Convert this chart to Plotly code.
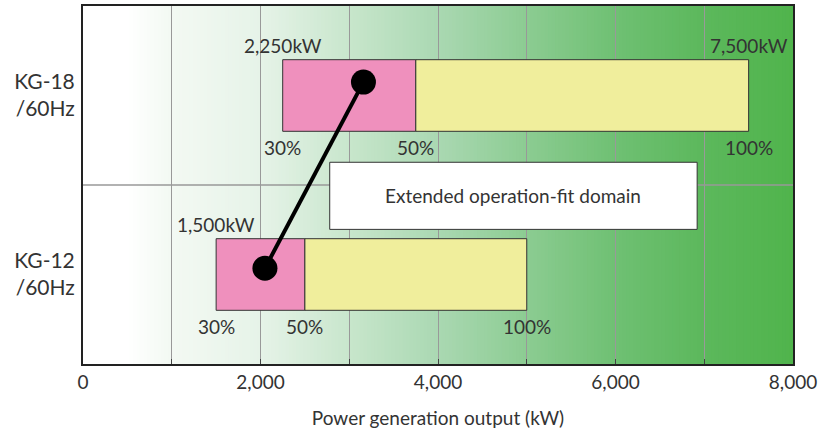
import plotly.graph_objects as go

# ---- data ----
models = ["KG-12<br>/60Hz", "KG-18<br>/60Hz"]
model_pos = [0.5, 1.5]
kw_30 = [1500, 2250]
kw_50 = [2500, 3750]
kw_100 = [5000, 7500]
min_labels = ["1,500kW", "2,250kW"]
max_labels = ["", "7,500kW"]
dot_x = [2050, 3160]
dot_y = [0.535, 1.575]
x_ticks = [0, 2000, 4000, 6000, 8000]
x_ticktext = ["0", "2,000", "4,000", "6,000", "8,000"]
box_x = [2780, 6920]
box_y = [0.752, 1.127]
box_text = "Extended operation-fit domain"

# background gradient stops (decoration)
grad_stops = [(0, (255, 255, 255)), (500, (255, 255, 255)), (1000, (243, 249, 243)),
              (2000, (230, 243, 232)), (3000, (200, 230, 204)), (4000, (170, 216, 178)),
              (5000, (140, 204, 146)), (6000, (111, 192, 115)), (7000, (92, 184, 92)),
              (8000, (80, 180, 76))]

FONT = "Lato"
TXT = "#333333"

def grad_color(v):
    for (a, ca), (b, cb) in zip(grad_stops[:-1], grad_stops[1:]):
        if a <= v <= b:
            t = (v - a) / (b - a) if b > a else 0
            c = [round(ca[i] + (cb[i] - ca[i]) * t) for i in range(3)]
            return f"rgb({c[0]},{c[1]},{c[2]})"
    return "rgb(80,180,76)"

shapes = []
step = 40
for s in range(0, 8000, step):
    shapes.append(dict(type="rect", xref="x", yref="y", x0=s, x1=min(s + step * 2, 8000), y0=0, y1=2,
                       fillcolor=grad_color(s + step / 2), line=dict(width=0), layer="below"))
# separator between the two models
shapes.append(dict(type="line", xref="x", yref="y", x0=0, x1=8000, y0=1, y1=1,
                   line=dict(color="#999999", width=1.5), layer="between"))
# white annotation box
shapes.append(dict(type="rect", xref="x", yref="y", x0=box_x[0], x1=box_x[1], y0=box_y[0], y1=box_y[1],
                   fillcolor="white", line=dict(color="#333333", width=1), layer="above"))

fig = go.Figure()
fig.add_trace(go.Bar(
    orientation="h", y=model_pos, base=kw_30,
    x=[b - a for a, b in zip(kw_30, kw_50)], width=0.4,
    marker=dict(color="#ef90bd", line=dict(color="#333333", width=1)),
    hoverinfo="skip", showlegend=False))
fig.add_trace(go.Bar(
    orientation="h", y=model_pos, base=kw_50,
    x=[b - a for a, b in zip(kw_50, kw_100)], width=0.4,
    marker=dict(color="#f0ee9c", line=dict(color="#333333", width=1)),
    hoverinfo="skip", showlegend=False))
fig.add_trace(go.Scatter(
    x=dot_x, y=dot_y, mode="lines+markers",
    line=dict(color="black", width=4),
    marker=dict(color="black", size=25),
    hoverinfo="skip", showlegend=False))

LBL = 19
annotations = []
for i in range(2):
    annotations.append(dict(x=kw_30[i], y=model_pos[i] + 0.2, text=min_labels[i], showarrow=False,
                            yanchor="bottom", yshift=1, font=dict(size=LBL, color=TXT, family=FONT)))
    if max_labels[i]:
        annotations.append(dict(x=kw_100[i], y=model_pos[i] + 0.2, text=max_labels[i], showarrow=False,
                                yanchor="bottom", yshift=1, font=dict(size=LBL, color=TXT, family=FONT)))
    for xv, lab in [(kw_30[i], "30%"), (kw_50[i], "50%"), (kw_100[i], "100%")]:
        annotations.append(dict(x=xv, y=model_pos[i] - 0.2, text=lab, showarrow=False,
                                yanchor="top", yshift=-3, font=dict(size=LBL, color=TXT, family=FONT)))
annotations.append(dict(x=(box_x[0] + box_x[1]) / 2, y=(box_y[0] + box_y[1]) / 2, text=box_text,
                        showarrow=False, font=dict(size=19, color=TXT, family=FONT)))

fig.update_layout(
    width=822, height=430,
    margin=dict(l=83, r=29, t=6, b=66),
    paper_bgcolor="white", plot_bgcolor="white",
    barmode="overlay",
    shapes=shapes, annotations=annotations,
    font=dict(family=FONT, color=TXT, size=18),
    xaxis=dict(range=[0, 8000], tickvals=x_ticks, ticktext=x_ticktext, automargin=False,
               showgrid=True, gridcolor="#999999", gridwidth=1.2,
               minor=dict(dtick=1000, showgrid=True, gridcolor="#999999", gridwidth=1.2,
                          ticks="inside", ticklen=5, tickcolor="#444444"),
               ticks="inside", ticklen=5, tickcolor="#444444",
               showline=True, linecolor="#222222", linewidth=2, mirror=True,
               zeroline=False, fixedrange=True,
               title=dict(text="Power generation output (kW)", font=dict(size=19, color=TXT), standoff=20),
               tickfont=dict(size=19, color=TXT)),
    yaxis=dict(range=[0, 2], tickvals=model_pos, ticktext=models, automargin=False,
               showgrid=False, zeroline=False, ticks="",
               showline=True, linecolor="#222222", linewidth=2, mirror=True,
               tickfont=dict(size=21, color=TXT), ticklabelstandoff=2, fixedrange=True),
)

fig.write_html("out.html", config={"displayModeBar": False},
               post_script="document.body.style.margin='0';document.body.style.overflow='hidden';")
